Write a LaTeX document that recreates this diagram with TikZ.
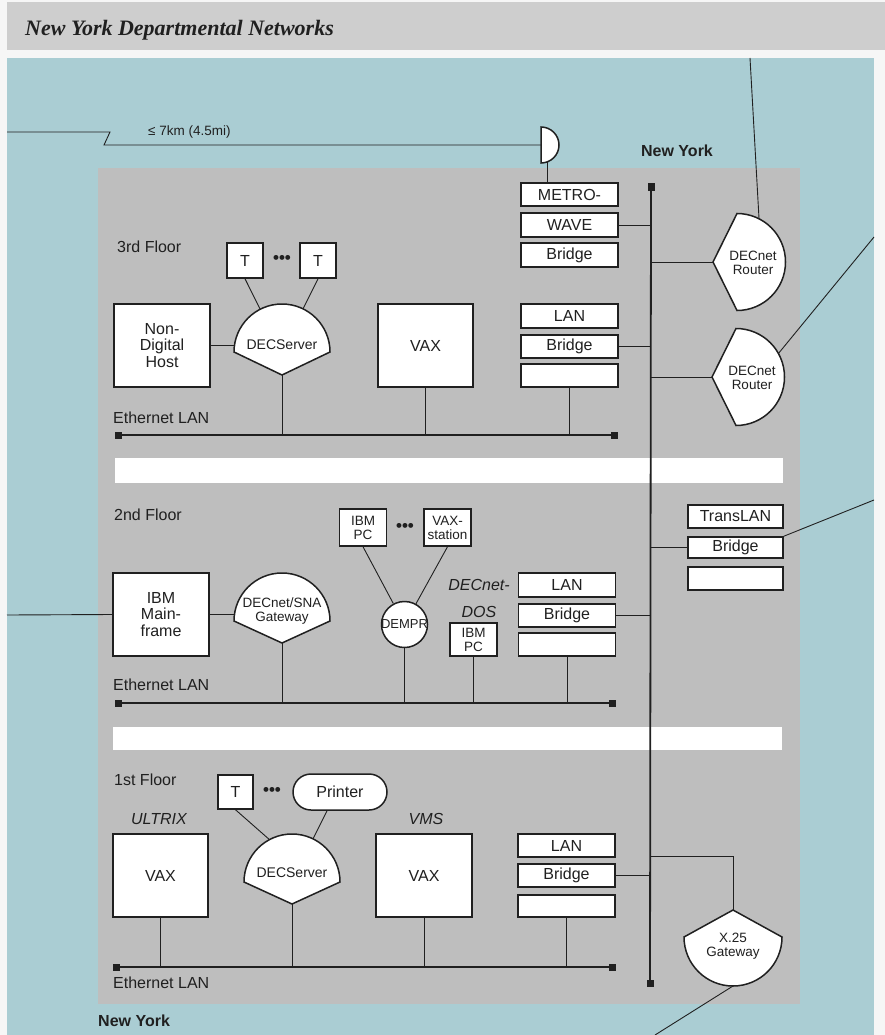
\documentclass[tikz,border=0pt]{standalone}
\usepackage{fontspec}
\setmainfont{Liberation Serif}
\newfontfamily\hv{Liberation Sans}
\usetikzlibrary{calc}
\definecolor{bluebg}{RGB}{170,205,211}
\definecolor{panel}{RGB}{190,190,190}
\definecolor{titlebg}{RGB}{206,206,206}
\definecolor{paper}{RGB}{246,246,246}
\definecolor{ink}{RGB}{32,32,32}
\begin{document}
\begin{tikzpicture}[x=1pt,y=-1pt,
  box/.style={draw=ink, fill=white, line width=1.5pt, inner sep=0pt, align=center, text=ink,
    font=\hv\fontsize{16}{16.5}\selectfont},
  sbox/.style={box, font=\hv\fontsize{13.5}{14}\selectfont},
  shp/.style={draw=ink, fill=white, line width=1.5pt},
  shptext/.style={align=center, inner sep=0pt, text=ink, font=\hv\fontsize{13.5}{14.5}\selectfont},
  wire/.style={draw=ink, line width=0.9pt},
  bus/.style={draw=ink, line width=1.8pt},
  lab/.style={anchor=west, inner sep=0pt, text=ink, font=\hv\fontsize{16}{16}\selectfont},
  ital/.style={inner sep=0pt, align=center, text=ink, font=\hv\itshape\fontsize{16}{17}\selectfont},
  dotsn/.style={inner sep=0pt, text=ink, font=\hv\bfseries\fontsize{17}{17}\selectfont},
  endsq/.style={fill=ink, minimum size=7pt, inner sep=0pt},
]
\useasboundingbox (0,0) rectangle (885,1035);
\fill[paper] (0,0) rectangle (885,1035);
\fill[titlebg] (7,2) rectangle (885,50);
\node[anchor=west, inner sep=0pt, text=ink, font=\bfseries\itshape\fontsize{22}{22}\selectfont] (title) at (25,30) {New York Departmental Networks};
\fill[bluebg] (7,58) rectangle (874,1035);
\fill[panel] (98,168) rectangle (800,1004);
\fill[white] (115,458) rectangle (783,483);
\fill[white] (113,727) rectangle (782,750);

% ---------- long haul link and D
\coordinate (lhA) at (7,132);
\coordinate (lhB) at (110,132);
\coordinate (lhC) at (104,145);
\coordinate (dL) at (541,145);
\coordinate (dbot) at (547,162);
\draw[shp] (541,127) arc[start angle=270,end angle=450,radius=18] -- cycle;
\draw[wire] (lhA) -- (lhB) -- (lhC) -- (dL);
\node[anchor=west, inner sep=0pt, text=ink, font=\hv\fontsize{13.5}{13.5}\selectfont] (kmlab) at (148,132) {≤ 7km (4.5mi)};
\node[inner sep=0pt, text=ink, font=\hv\bfseries\fontsize{16}{16}\selectfont] (nytop) at (677,151) {New York};
\node[anchor=west, inner sep=0pt, text=ink, font=\hv\bfseries\fontsize{16}{16}\selectfont] (nybot) at (98,1021) {New York};

% ---------- backbone
\coordinate (bbT) at (651,187);
\coordinate (bbB) at (650,983);
\draw[bus] (bbT) -- (bbB);
\node[endsq] (bbTs) at (bbT) {};
\node[endsq] (bbBs) at (bbB) {};

% ---------- METROWAVE bridge
\node[box, minimum width=97pt, minimum height=23pt] (metro) at (569.5,194.5) {METRO-};
\node[box, minimum width=97pt, minimum height=24pt] (wave) at (569.5,225) {WAVE};
\node[box, minimum width=97pt, minimum height=24pt] (mbr) at (569.5,255) {Bridge};
\draw[wire] (dbot |- metro.north) -- (dbot);
\draw[wire] (wave.east) -- (wave.east -| bbT);

% ---------- DECnet routers
\coordinate (r1c) at (737,262);
\coordinate (r1tip) at (713,262);
\draw[shp] (737,213.5) arc[start angle=270,end angle=450,radius=48.5] -- (r1tip) -- cycle;
\node[shptext] (r1) at (753,263) {DECnet\\Router};
\draw[wire] (r1tip -| bbT) -- (r1tip);
\coordinate (r1out) at ($(r1c)+(297:48.5)$);
\coordinate (r1far) at (750,58);
\draw[wire] (r1out) -- (r1far);

\coordinate (r2c) at (736,377);
\coordinate (r2tip) at (712,377);
\draw[shp] (736,328.5) arc[start angle=270,end angle=450,radius=48.5] -- (r2tip) -- cycle;
\node[shptext] (r2) at (752,378) {DECnet\\Router};
\draw[wire] (r2tip -| bbT) -- (r2tip);
\coordinate (r2out) at ($(r2c)+(331:48.5)$);
\coordinate (r2far) at (874,237);
\draw[wire] (r2out) -- (r2far);

% ---------- 3rd floor
\node[lab] (f3) at (117,247) {3rd Floor};
\node[box, minimum width=36pt, minimum height=35pt] (t3a) at (245,260.5) {T};
\node[box, minimum width=36pt, minimum height=35pt] (t3b) at (318,260.5) {T};
\node[dotsn] (d3) at (282,259) {•••};
\node[box, minimum width=96pt, minimum height=83pt] (host) at (162,345.5) {Non-\\Digital\\Host};
\coordinate (ds3c) at (282,352);
\coordinate (ds3tip) at (282,375);
\draw[shp] (234,352) arc[start angle=180,end angle=360,radius=48] -- (ds3tip) -- cycle;
\node[shptext, font=\hv\fontsize{14}{14.5}\selectfont] (ds3) at (282,345) {DECServer};
\draw[wire] (t3a.south) -- ($(ds3c)+(243:48)$);
\draw[wire] (t3b.south) -- ($(ds3c)+(296:48)$);
\draw[wire] (host.east) -- ++(24.4,0);
\node[box, minimum width=95pt, minimum height=83pt] (vax3) at (425.5,345.5) {VAX};
\node[box, minimum width=97pt, minimum height=24pt] (lan3) at (569.5,316) {LAN};
\node[box, minimum width=97pt, minimum height=23pt] (br3) at (569.5,346.5) {Bridge};
\node[box, minimum width=97pt, minimum height=23pt] (em3) at (569.5,375.5) {};
\draw[wire] (br3.east) -- (br3.east -| bbT);
\coordinate (lan3L) at (118,435);
\coordinate (lan3R) at (614,435);
\draw[bus] (lan3L) -- (lan3R);
\node[endsq] (lan3Ls) at (lan3L) {};
\node[endsq] (lan3Rs) at (lan3R) {};
\node[lab] (eth3) at (113,418) {Ethernet LAN};
\draw[wire] (ds3tip) -- (ds3tip |- lan3L);
\draw[wire] (vax3.south) -- (vax3.south |- lan3L);
\draw[wire] (em3.south) -- (em3.south |- lan3L);

% ---------- TransLAN bridge
\node[box, minimum width=95pt, minimum height=23pt] (trans) at (735.5,516.5) {TransLAN};
\node[box, minimum width=95pt, minimum height=21pt] (tbr) at (735.5,547.5) {Bridge};
\node[box, minimum width=95pt, minimum height=23pt] (tem) at (735.5,578.5) {};
\draw[wire] (tbr.west -| bbT) -- (tbr.west);
\coordinate (tfar) at (874,500);
\draw[wire] (tbr.north east) -- (tfar);

% ---------- 2nd floor
\node[lab] (f2) at (114,515) {2nd Floor};
\node[sbox, minimum width=47pt, minimum height=37pt] (pc2a) at (363,527.5) {IBM\\PC};
\node[sbox, minimum width=47pt, minimum height=37pt] (vs2) at (447.5,527.5) {VAX-\\station};
\node[dotsn] (d2) at (405,527) {•••};
\coordinate (mfleft) at (7,615);
\node[box, minimum width=96pt, minimum height=83pt] (mf) at (161,614.5) {IBM\\Main-\\frame};
\draw[wire] (mfleft) -- (mf.west);
\coordinate (gw2c) at (282,621);
\coordinate (gw2tip) at (282,643);
\draw[shp] (234,621) arc[start angle=180,end angle=360,radius=48] -- (gw2tip) -- cycle;
\node[shptext] (gw2) at (282,611) {DECnet/SNA\\Gateway};
\draw[wire] (mf.east) -- ++(25,0);
\node[circle, draw=ink, fill=white, line width=1.5pt, minimum size=46pt, inner sep=0pt] (dempr) at (404.5,624.5) {};
\node[inner sep=0pt, text=ink, font=\hv\fontsize{13}{13}\selectfont] (demprt) at (dempr) {DEMPR};
\draw[wire] (pc2a.south) -- (dempr);
\draw[wire] (vs2.south) -- (dempr);
\node[ital, font=\hv\itshape\fontsize{16}{27}\selectfont] (dos) at (479,598) {DECnet-\\DOS};
\node[sbox, minimum width=47pt, minimum height=33pt] (pc2b) at (473.5,639.5) {IBM\\PC};
\node[box, minimum width=97pt, minimum height=24pt] (lan2) at (567,585) {LAN};
\node[box, minimum width=97pt, minimum height=23pt] (br2) at (567,615.5) {Bridge};
\node[box, minimum width=97pt, minimum height=23pt] (em2) at (567,644.5) {};
\draw[wire] (br2.east) -- (br2.east -| bbT);
\coordinate (lan2L) at (118,703);
\coordinate (lan2R) at (612,703);
\draw[bus] (lan2L) -- (lan2R);
\node[endsq] (lan2Ls) at (lan2L) {};
\node[endsq] (lan2Rs) at (lan2R) {};
\node[lab] (eth2) at (113,685) {Ethernet LAN};
\draw[wire] (gw2tip) -- (gw2tip |- lan2L);
\draw[wire] (dempr.south) -- (dempr.south |- lan2L);
\draw[wire] (pc2b.south) -- (pc2b.south |- lan2L);
\draw[wire] (em2.south) -- (em2.south |- lan2L);

% ---------- 1st floor
\node[lab] (f1) at (114,780) {1st Floor};
\node[box, minimum width=35pt, minimum height=34pt] (t1) at (235.5,792) {T};
\node[dotsn] (d1) at (272,791) {•••};
\node[box, rounded corners=18pt, minimum width=94pt, minimum height=36pt] (prn) at (340,792) {Printer};
\node[ital] (ultrix) at (159,819) {ULTRIX};
\node[ital] (vms) at (426,819) {VMS};
\node[box, minimum width=95pt, minimum height=83pt] (vax1a) at (160.5,875.5) {VAX};
\node[box, minimum width=96pt, minimum height=83pt] (vax1b) at (424,875.5) {VAX};
\coordinate (ds1c) at (292,882);
\coordinate (ds1tip) at (292,904);
\draw[shp] (244,882) arc[start angle=180,end angle=360,radius=48] -- (ds1tip) -- cycle;
\node[shptext, font=\hv\fontsize{14}{14.5}\selectfont] (ds1) at (292,873) {DECServer};
\draw[wire] (t1.south) -- ($(ds1c)+(242:48)$);
\draw[wire] (prn.south -| 327,0) -- ($(ds1c)+(296:48)$);
\node[box, minimum width=97pt, minimum height=23pt] (lan1) at (566.5,845.5) {LAN};
\node[box, minimum width=97pt, minimum height=23pt] (br1) at (566.5,875.5) {Bridge};
\node[box, minimum width=97pt, minimum height=22pt] (em1) at (566.5,906) {};
\draw[wire] (br1.east) -- (br1.east -| bbB);
\coordinate (lan1L) at (116,967);
\coordinate (lan1R) at (612,967);
\draw[bus] (lan1L) -- (lan1R);
\node[endsq] (lan1Ls) at (lan1L) {};
\node[endsq] (lan1Rs) at (lan1R) {};
\node[lab] (eth1) at (113,983) {Ethernet LAN};
\draw[wire] (vax1a.south) -- (vax1a.south |- lan1L);
\draw[wire] (ds1tip) -- (ds1tip |- lan1L);
\draw[wire] (vax1b.south) -- (vax1b.south |- lan1L);
\draw[wire] (em1.south) -- (em1.south |- lan1L);

% ---------- X.25 gateway
\coordinate (x25c) at (733,937);
\coordinate (x25tip) at (733,910);
\draw[shp] (782,937) arc[start angle=0,end angle=180,radius=49] -- (x25tip) -- cycle;
\node[shptext] (x25) at (733,946) {X.25\\Gateway};
\coordinate (x25bot) at (733,986);
\coordinate (x25far) at (655,1035);
\draw[wire] (bbB |- 0,856) -- (x25tip |- 0,856) -- (x25tip);
\draw[wire] (x25bot) -- (x25far);
\end{tikzpicture}
\end{document}
